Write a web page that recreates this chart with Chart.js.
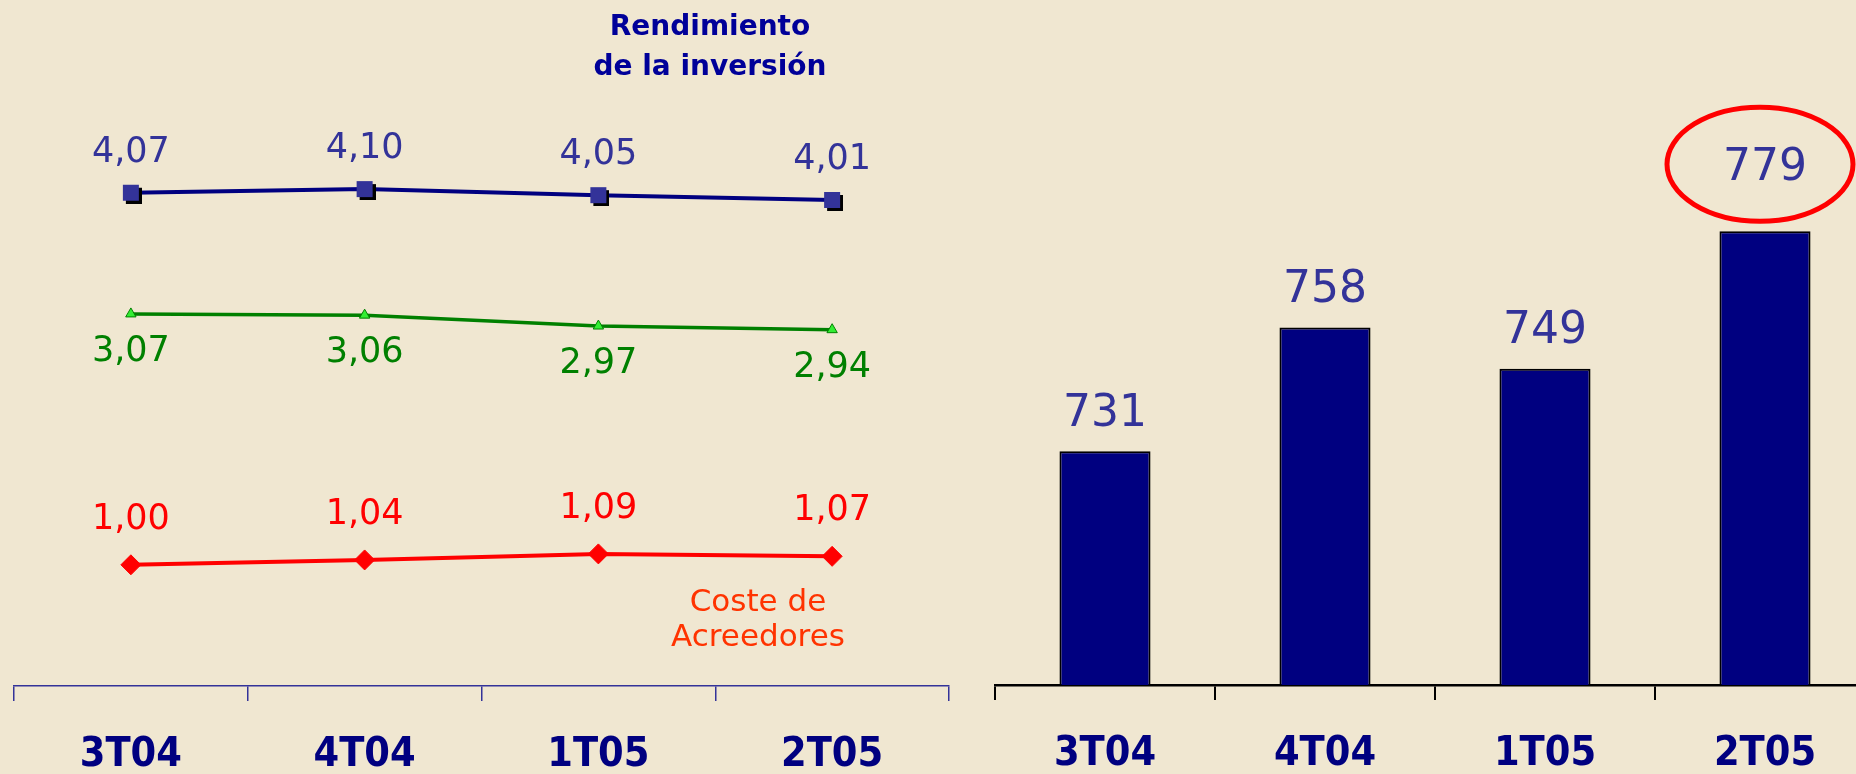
<!DOCTYPE html>
<html>
<head>
<meta charset="utf-8">
<script src="https://cdn.jsdelivr.net/npm/chart.js@4.4.1/dist/chart.umd.min.js"></script>
<style>
html, body { margin: 0; padding: 0; }
body { width: 1856px; height: 774px; overflow: hidden; position: relative; background: #f0e7d1; font-family: "DejaVu Sans", sans-serif; }
#lineWrap { position: absolute; left: 0; top: 0; width: 980px; height: 813px; }
#barWrap { position: absolute; left: 960px; top: 0; width: 940px; height: 813px; }
.nota { position: absolute; text-align: center; white-space: nowrap; }
#rend { left: 560px; width: 300px; top: 6px; font-size: 28px; line-height: 40px; font-weight: bold; color: #000099; }
#coste { left: 608px; width: 300px; top: 583px; font-size: 31px; line-height: 35px; color: #ff3300; }
</style>
</head>
<body>
<div id="lineWrap"><canvas id="graficoTipos"></canvas></div>
<div id="barWrap"><canvas id="graficoMargen"></canvas></div>
<div class="nota" id="rend">Rendimiento<br>de la inversión</div>
<div class="nota" id="coste">Coste de<br>Acreedores</div>
<script>
var trimestres = ['3T04', '4T04', '1T05', '2T05'];
var rendimiento = [4.07, 4.10, 4.05, 4.01];
var diferencial = [3.07, 3.06, 2.97, 2.94];
var costeAcreedores = [1.00, 1.04, 1.09, 1.07];
var margen = [731, 758, 749, 779];

var fuente = '"DejaVu Sans", sans-serif';
var fuenteEje = '"DejaVu Sans Condensed", "DejaVu Sans", sans-serif';

// cuadrado azul con sombra negra para los puntos de rendimiento
function puntoCuadrado() {
    var c = document.createElement('canvas');
    c.width = 22; c.height = 22;
    var g = c.getContext('2d');
    g.fillStyle = '#000000';
    g.fillRect(6, 6, 16, 16);
    g.fillStyle = '#333399';
    g.fillRect(3, 3, 16, 16);
    return c;
}

function coma(v) {
    return v.toFixed(2).replace('.', ',');
}

// offsets verticales de las etiquetas por serie
var etiquetasLinea = [
    { color: '#333399', dy: -40 },
    { color: '#008000', dy: 38 },
    { color: '#ff0000', dy: -45 }
];

var pluginEtiquetasLinea = {
    id: 'etiquetasLinea',
    afterDatasetsDraw: function(chart) {
        var ctx = chart.ctx;
        ctx.save();
        ctx.font = '35px ' + fuente;
        ctx.textAlign = 'center';
        ctx.textBaseline = 'middle';
        chart.data.datasets.forEach(function(ds, i) {
            var meta = chart.getDatasetMeta(i);
            ctx.fillStyle = etiquetasLinea[i].color;
            meta.data.forEach(function(p, j) {
                ctx.fillText(coma(ds.data[j]), p.x, p.y + etiquetasLinea[i].dy);
            });
        });
        ctx.restore();
    }
};

var pluginEtiquetasBarra = {
    id: 'etiquetasBarra',
    afterDatasetsDraw: function(chart) {
        var ctx = chart.ctx;
        var meta = chart.getDatasetMeta(0);
        ctx.save();
        ctx.font = '44px ' + fuente;
        ctx.textAlign = 'center';
        ctx.textBaseline = 'middle';
        ctx.fillStyle = '#333399';
        meta.data.forEach(function(b, j) {
            var dy = (j === meta.data.length - 1) ? 63 : 37;
            ctx.fillText(String(margen[j]), b.x, b.y - dy);
        });
        // elipse roja sobre el último trimestre
        var ult = meta.data[meta.data.length - 1];
        ctx.beginPath();
        ctx.ellipse(ult.x - 5, ult.y - 67, 93, 57, 0, 0, Math.PI * 2);
        ctx.lineWidth = 5;
        ctx.strokeStyle = '#ff0000';
        ctx.stroke();
        ctx.restore();
    }
};

var configTipos = {
    type: 'line',
    data: {
        labels: trimestres,
        datasets: [{
            data: rendimiento,
            borderColor: '#000080',
            borderWidth: 4,
            pointStyle: puntoCuadrado(),
            pointRadius: 10
        }, {
            data: diferencial,
            borderColor: '#008000',
            borderWidth: 3.5,
            pointStyle: 'triangle',
            pointRadius: 6,
            pointBackgroundColor: '#33ee33',
            pointBorderColor: '#008000',
            pointBorderWidth: 1
        }, {
            data: costeAcreedores,
            borderColor: '#ff0000',
            borderWidth: 4,
            pointStyle: 'rectRot',
            pointRadius: 10,
            pointBackgroundColor: '#ff0000',
            pointBorderColor: '#ff0000',
            pointBorderWidth: 1
        }]
    },
    options: {
        responsive: true,
        maintainAspectRatio: false,
        animation: false,
        layout: { padding: { left: 14, right: 31, top: 80, bottom: 3 } },
        plugins: { legend: { display: false }, tooltip: { enabled: false } },
        scales: {
            x: {
                offset: true,
                grid: { offset: true, drawOnChartArea: false, tickLength: 15, color: '#333399', lineWidth: 1.5 },
                border: { color: '#333399', width: 1.5 },
                ticks: { color: '#000080', padding: 34, font: { family: fuenteEje, size: 41, weight: 'bold', lineHeight: 1 } }
            },
            y: { display: false, min: 0, max: 5 }
        }
    },
    plugins: [pluginEtiquetasLinea]
};

var configMargen = {
    type: 'bar',
    data: {
        labels: trimestres,
        datasets: [{
            data: margen,
            backgroundColor: '#000080',
            borderColor: '#000000',
            borderWidth: 2,
            categoryPercentage: 1,
            barPercentage: 0.414
        }]
    },
    options: {
        responsive: true,
        maintainAspectRatio: false,
        animation: false,
        layout: { padding: { left: 35, right: 25, top: 135, bottom: 4 } },
        plugins: { legend: { display: false }, tooltip: { enabled: false } },
        scales: {
            x: {
                grid: { offset: true, drawOnChartArea: false, tickLength: 15, color: '#000000', lineWidth: 2 },
                border: { color: '#000000', width: 2.5 },
                ticks: { color: '#000080', padding: 34, font: { family: fuenteEje, size: 41, weight: 'bold', lineHeight: 1 } }
            },
            y: { display: false, min: 680, max: 800 }
        }
    },
    plugins: [pluginEtiquetasBarra]
};

window.onload = function() {
    new Chart(document.getElementById('graficoTipos').getContext('2d'), configTipos);
    new Chart(document.getElementById('graficoMargen').getContext('2d'), configMargen);
};
</script>
</body>
</html>
